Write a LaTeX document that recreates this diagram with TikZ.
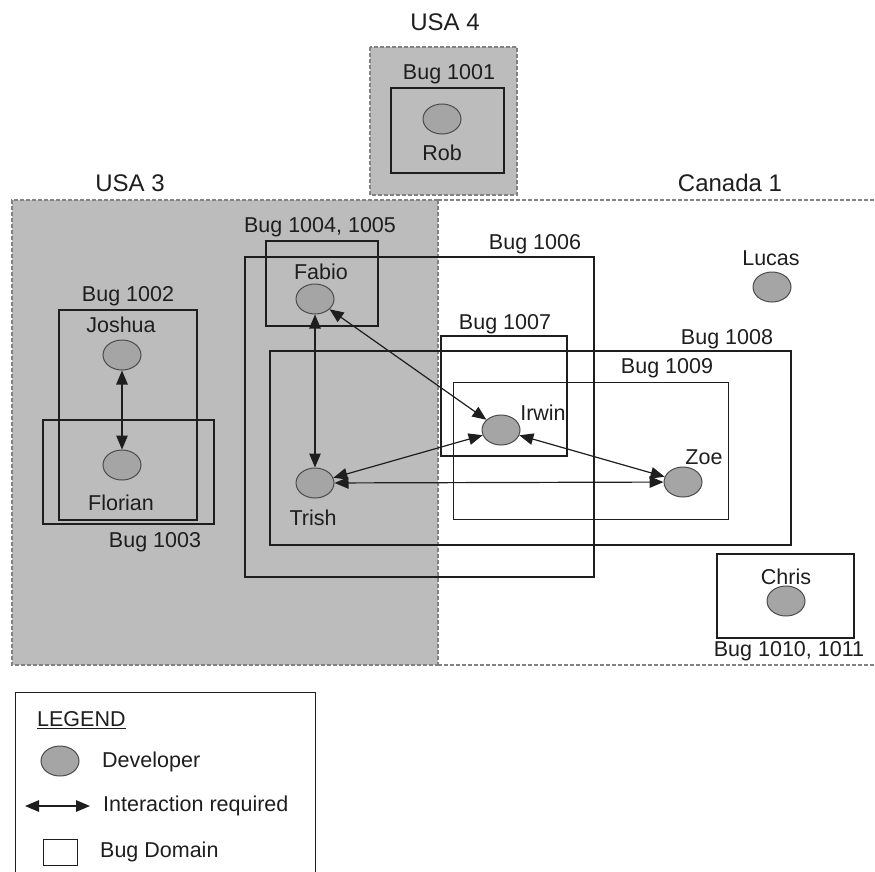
\documentclass[tikz,border=0pt]{standalone}
\usepackage{fontspec}
\setmainfont{Liberation Sans}
\usetikzlibrary{shapes.geometric,arrows.meta}
\definecolor{regfill}{RGB}{188,188,188}
\definecolor{regline}{RGB}{130,130,130}
\definecolor{devfill}{RGB}{165,165,165}
\definecolor{ink}{RGB}{30,30,30}
\tikzset{
  region/.style={draw=regline, line width=1.2pt, dash pattern=on 4pt off 2pt},
  bugbox/.style={draw=ink, line width=1.2pt},
  dev/.style={ellipse, draw=ink!80, line width=1pt, fill=devfill, minimum width=38pt, minimum height=30pt, inner sep=0pt},
  lbl/.style={font=\fontsize{21.5}{23}\selectfont, text=ink, inner sep=0pt},
  reglbl/.style={font=\fontsize{24}{26}\selectfont, text=ink, inner sep=0pt},
  inter/.style={arrows={Triangle[length=14pt,width=11.5pt]-Triangle[length=14pt,width=11.5pt]}, draw=ink, line width=1.2pt}
}
\begin{document}
\begin{tikzpicture}[x=1pt,y=-1pt]
\useasboundingbox (0,0) rectangle (875,871);
\clip (0,0) rectangle (875,871);
\fill[white] (0,0) rectangle (875,871);
% regions
\fill[regfill] (12,200) rectangle (438,665);
\draw[region] (438,200) -- (12,200) -- (12,665) -- (438,665);
\draw[region] (438,200) -- (438,665);
\draw[region] (438,200) -- (876,200);
\draw[region] (438,665) -- (876,665);
\fill[regfill] (370,47) rectangle (517,195);
\draw[region] (370,47) rectangle (517,195);
\node[reglbl] (usa4) at (445,22) {USA 4};
\node[reglbl] (usa3) at (130,183) {USA 3};
\node[reglbl] (can1) at (730,183) {Canada 1};
% bug boxes
\draw[bugbox] (391,88) rectangle (504,173);
\node[lbl] (b1001) at (449,74) {Bug 1001};
\draw[bugbox] (59,310) rectangle (197,520);
\node[lbl] (b1002) at (128,296) {Bug 1002};
\draw[bugbox] (43,420) rectangle (214,524);
\node[lbl] (b1003) at (155,542) {Bug 1003};
\draw[bugbox] (266,241) rectangle (378,326);
\node[lbl] (b1004) at (320,227) {Bug 1004, 1005};
\draw[bugbox] (245,257) rectangle (594,577);
\node[lbl] (b1006) at (535,244) {Bug 1006};
\draw[bugbox] (441,336) rectangle (567,456);
\node[lbl] (b1007) at (505,324) {Bug 1007};
\draw[bugbox] (270,351) rectangle (791,545);
\node[lbl] (b1008) at (727,339) {Bug 1008};
\draw[bugbox, line width=1pt] (453,382) rectangle (728,519);
\node[lbl] (b1009) at (667,368) {Bug 1009};
\draw[bugbox] (717,554) rectangle (854,638);
\node[lbl] (b1010) at (789,651) {Bug 1010, 1011};
% developers
\node[dev] (rob) at (442,119) {};
\node[lbl] (robl) at (442,153) {Rob};
\node[dev] (joshua) at (122,355) {};
\node[lbl] (joshual) at (121,325) {Joshua};
\node[dev] (florian) at (122,465) {};
\node[lbl] (florianl) at (121,503) {Florian};
\node[dev] (fabio) at (315,299) {};
\node[lbl] (fabiol) at (321,272) {Fabio};
\node[dev] (trish) at (315,483) {};
\node[lbl] (trishl) at (313,518) {Trish};
\node[dev] (irwin) at (501,430) {};
\node[lbl] (irwinl) at (543,413) {Irwin};
\node[dev] (zoe) at (683,482) {};
\node[lbl] (zoel) at (704,457) {Zoe};
\node[dev] (lucas) at (772,287) {};
\node[lbl] (lucasl) at (771,258) {Lucas};
\node[dev] (chris) at (786,601) {};
\node[lbl] (chrisl) at (786,577) {Chris};
% interactions
\draw[inter] (joshua) -- (florian);
\draw[inter] (fabio) -- (trish);
\draw[inter] (fabio) -- (irwin);
\draw[inter] (trish) -- (irwin);
\draw[inter] (trish) -- (zoe);
\draw[inter] (irwin) -- (zoe);
% legend
\draw[bugbox, line width=1pt] (15,692) rectangle (315,900);
\node[lbl, anchor=west] (legt) at (37,720) {\underline{LEGEND}};
\node[dev] (legdev) at (60,761) {};
\node[lbl, anchor=west] (legdevl) at (102,762) {Developer};
\coordinate (la) at (25,806);
\coordinate (lb) at (90,806);
\draw[inter] (la) -- (lb);
\node[lbl, anchor=west] (legint) at (103,806) {Interaction required};
\draw[bugbox, line width=1pt] (43,839) rectangle (77,865);
\node[lbl, anchor=west] (legbug) at (100,852) {Bug Domain};
\end{tikzpicture}
\end{document}
